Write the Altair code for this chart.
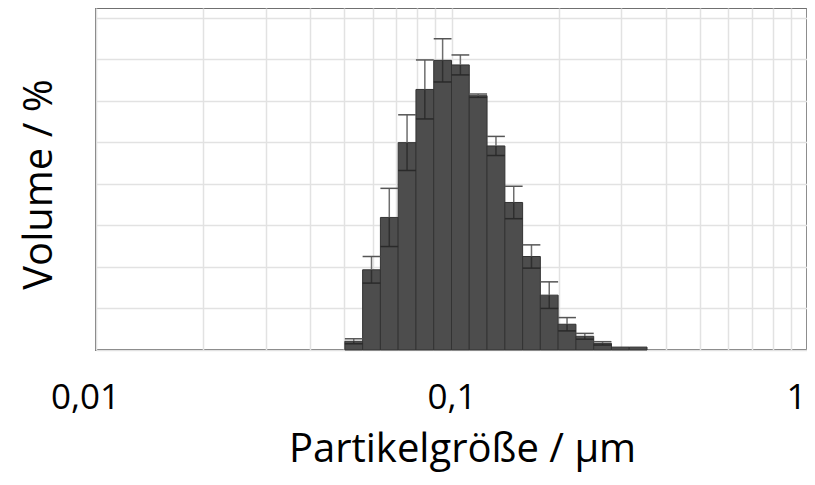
import altair as alt
import pandas as pd

# bin edges (µm) of the size classes
bin_lo = [0.05012, 0.05623, 0.06310, 0.07079, 0.07943, 0.08913, 0.1, 0.1122, 0.1259,
          0.1413, 0.1585, 0.1778, 0.1995, 0.2239, 0.2512, 0.2818, 0.3162]
bin_hi = [0.05623, 0.06310, 0.07079, 0.07943, 0.08913, 0.1, 0.1122, 0.1259, 0.1413,
          0.1585, 0.1778, 0.1995, 0.2239, 0.2512, 0.2818, 0.3162, 0.3548]
# volume share (%) and its error
volume = [0.21, 1.93, 3.19, 4.99, 6.27, 6.97, 6.86, 6.12, 4.91,
          3.55, 2.25, 1.32, 0.62, 0.33, 0.16, 0.07, 0.07]
error = [0.06, 0.32, 0.70, 0.67, 0.71, 0.52, 0.24, 0.04, 0.23,
         0.39, 0.28, 0.32, 0.16, 0.07, 0.04, 0.0, 0.0]

x_ticks = [0.01, 0.02, 0.03, 0.04, 0.05, 0.06, 0.07, 0.08, 0.09,
           0.1, 0.2, 0.3, 0.4, 0.5, 0.6, 0.7, 0.8, 0.9, 1]
y_ticks = [0, 1, 2, 3, 4, 5, 6, 7, 8]

df = pd.DataFrame({"lo": bin_lo, "hi": bin_hi, "v": volume, "e": error})
df["ctr"] = (df["lo"] * df["hi"]) ** 0.5
df["up"] = df["v"] + df["e"]
df["dn"] = df["v"] - df["e"]
err_df = df[df["e"] > 0]

FONT = "Open Sans"
xscale = alt.Scale(type="log", domain=[0.01, 1], nice=False)
yscale = alt.Scale(domain=[0, 8.23], nice=False)

xaxis = alt.Axis(
    values=x_ticks,
    labelExpr="(datum.value == 0.01 || datum.value == 0.1 || datum.value == 1) ? replace(format(datum.value, '~g'), '.', ',') : ''",
    ticks=False, tickSize=0, domain=False,
    labelFont=FONT, labelFontSize=35, labelColor="#000",
    labelBaseline="alphabetic", labelPadding=58, labelFlush=False,
    labelOffset={"condition": [{"test": "datum.value <= 0.011", "value": -11},
                               {"test": "datum.value >= 0.99", "value": -11}],
                 "value": 0},
    labelOverlap=False,
    gridColor="#e2e2e2", gridWidth=1.5,
    title="Partikelgröße / µm", titleFont=FONT, titleFontSize=40,
    titleFontWeight="normal", titleColor="#000",
    titleX=366, titleY=111, titleBaseline="alphabetic", titleAlign="center",
)
yaxis = alt.Axis(
    values=y_ticks, labels=False, ticks=False, domain=False,
    gridColor="#e2e2e2", gridWidth=1.5,
    title="Volume / %", titleFont=FONT, titleFontSize=40,
    titleFontWeight="normal", titleColor="#000",
    titleX=-45, titleY=176, titleAngle=-90, titleBaseline="alphabetic", titleAlign="center",
)

base = alt.Chart(df)
bars = base.mark_rect(fill="#4d4d4d", stroke="#333333", strokeWidth=1).encode(
    x=alt.X("lo:Q", scale=xscale, axis=xaxis),
    x2="hi:Q",
    y=alt.Y("v:Q", scale=yscale, axis=yaxis),
    y2=alt.datum(0),
)
eb = alt.Chart(err_df)
rule_up = eb.mark_rule(color="#6e6e6e", strokeWidth=1.5).encode(
    x=alt.X("ctr:Q", scale=xscale, axis=xaxis),
    y=alt.Y("v:Q", scale=yscale, axis=yaxis),
    y2="up:Q",
)
rule_dn = eb.mark_rule(color="#2f2f2f", strokeWidth=1.5).encode(
    x=alt.X("ctr:Q", scale=xscale, axis=xaxis),
    y=alt.Y("dn:Q", scale=yscale, axis=yaxis),
    y2="v:Q",
)
cap_up = eb.mark_rule(color="#555555", strokeWidth=1.5).encode(
    x=alt.X("lo:Q", scale=xscale, axis=xaxis),
    x2="hi:Q",
    y=alt.Y("up:Q", scale=yscale, axis=yaxis),
)
cap_dn = eb.mark_rule(color="#2a2a2a", strokeWidth=1.5).encode(
    x=alt.X("lo:Q", scale=xscale, axis=xaxis),
    x2="hi:Q",
    y=alt.Y("dn:Q", scale=yscale, axis=yaxis),
)

chart = alt.layer(bars, rule_up, rule_dn, cap_up, cap_dn).properties(
    width=711, height=342,
    autosize=alt.AutoSizeParams(type="none"),
    padding={"left": 88, "top": 0, "right": 0, "bottom": 123},
).configure(
    background="white",
).configure_view(
    stroke="#707070", strokeWidth=2,
)

chart.save("out.html", embed_options={"renderer": "svg", "actions": False})
